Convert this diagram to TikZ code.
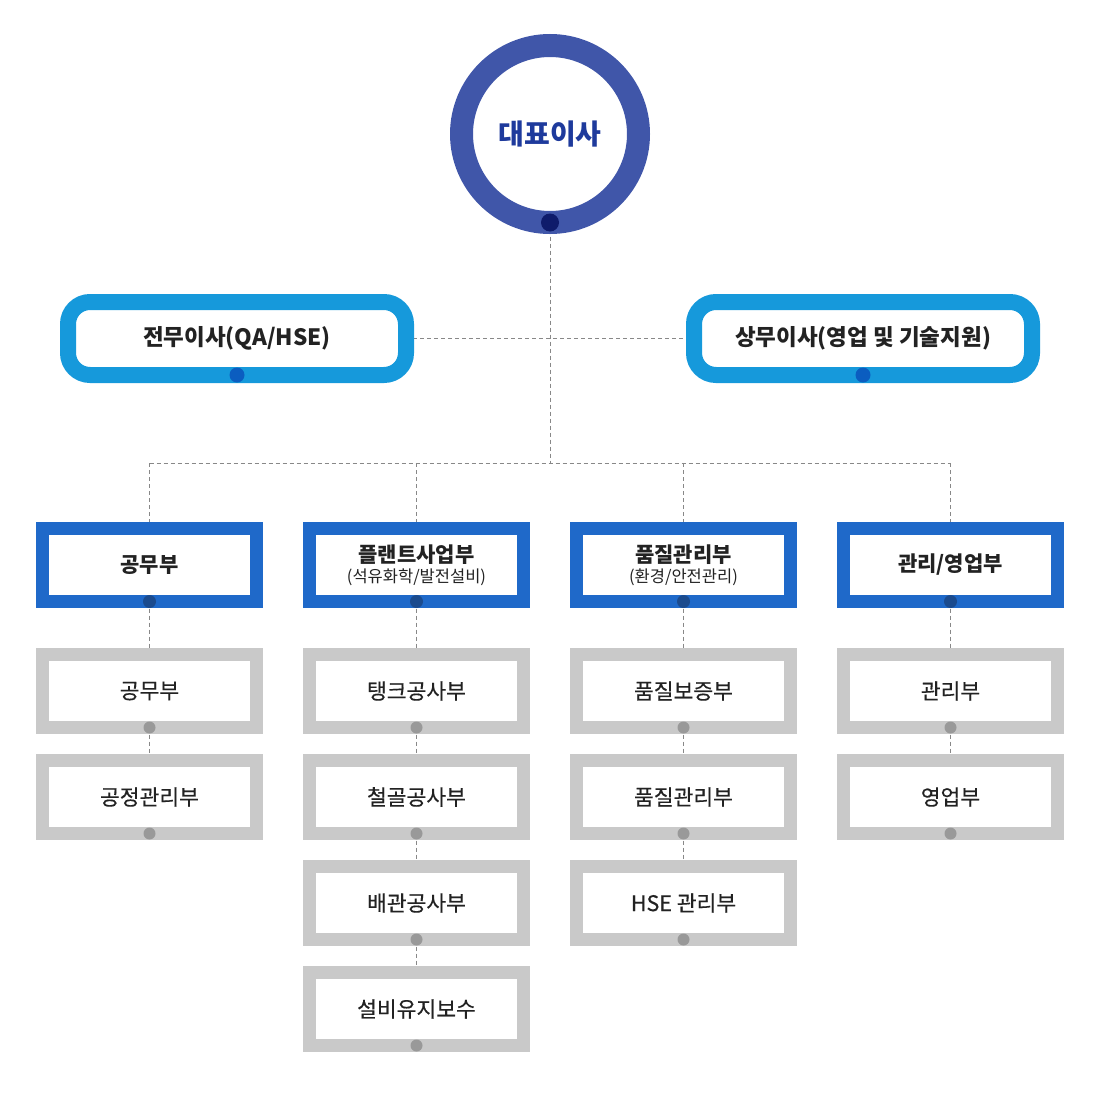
\documentclass[tikz,border=0pt]{standalone}
\usepackage{fontspec}
\setmainfont{Noto Sans CJK KR}
\newfontfamily\teamfont{Noto Sans CJK KR}[FakeBold=0.35]
\usetikzlibrary{backgrounds}
\definecolor{ring}{HTML}{4056A9}
\definecolor{ceotext}{HTML}{1E3A9C}
\definecolor{ceodot}{HTML}{0E1B6B}
\definecolor{vpblue}{HTML}{1699DB}
\definecolor{vpdot}{HTML}{0B5DC0}
\definecolor{deptblue}{HTML}{1F69C9}
\definecolor{deptdot}{HTML}{1B4B8E}
\definecolor{teamgray}{HTML}{C9C9C9}
\definecolor{teamdot}{HTML}{999999}
\definecolor{txt}{HTML}{222222}
\definecolor{linec}{HTML}{888888}
\begin{document}
\begin{tikzpicture}[x=1pt,y=-1pt,
  ceobox/.style={circle,draw=ring,line width=23pt,fill=white,minimum size=177pt,inner sep=0pt,outer sep=0pt,
    text=ceotext,font=\fontsize{28}{30}\selectfont\bfseries},
  vpbox/.style={rectangle,rounded corners=22pt,draw=vpblue,line width=16pt,fill=white,minimum width=338pt,minimum height=73pt,inner sep=0pt,outer sep=0pt,
    text=txt,font=\fontsize{22.5}{26}\selectfont\bfseries},
  deptbox/.style={rectangle,draw=deptblue,line width=13pt,fill=white,minimum width=214pt,minimum height=73pt,inner sep=0pt,outer sep=0pt,
    text=txt,font=\fontsize{21}{24}\selectfont\bfseries,align=center},
  teambox/.style={rectangle,draw=teamgray,line width=13pt,fill=white,minimum width=214pt,minimum height=73pt,inner sep=0pt,outer sep=0pt,
    text=txt,font=\fontsize{21.5}{24}\selectfont\teamfont},
  dotc/.style={circle,fill=#1,minimum size=13pt,inner sep=0pt},
  conn/.style={draw=linec,line width=0.9pt,dash pattern=on 4pt off 3pt}
]
\useasboundingbox (0,0) rectangle (1100,1100);

% CEO
\node[ceobox] (ceo) at (550,134) {대표이사};
\node[dotc=ceodot,minimum size=18pt] (ceod) at (ceo.south) {};

% vice presidents
\node[vpbox] (vp1) at (237,338.5) {전무이사(QA/HSE)};
\node[dotc=vpdot,minimum size=15pt] (vp1d) at (vp1.south) {};
\node[vpbox] (vp2) at (863,338.5) {상무이사(영업 및 기술지원)};
\node[dotc=vpdot,minimum size=15pt] (vp2d) at (vp2.south) {};

% departments
\node[deptbox] (d1) at (149.5,565) {공무부};
\node[deptbox] (d2) at (416.5,565) {플랜트사업부\\[-4pt]{\fontsize{16.5}{18}\selectfont\mdseries (석유화학/발전설비)}};
\node[deptbox] (d3) at (683.5,565) {품질관리부\\[-4pt]{\fontsize{16.5}{18}\selectfont\mdseries (환경/안전관리)}};
\node[deptbox] (d4) at (950.5,565) {관리/영업부};
\foreach \n in {d1,d2,d3,d4} \node[dotc=deptdot] (\n dot) at (\n.south) {};

% teams
\node[teambox] (t11) at (149.5,691) {공무부};
\node[teambox] (t12) at (149.5,797) {공정관리부};
\node[teambox] (t21) at (416.5,691) {탱크공사부};
\node[teambox] (t22) at (416.5,797) {철골공사부};
\node[teambox] (t23) at (416.5,903) {배관공사부};
\node[teambox] (t24) at (416.5,1009) {설비유지보수};
\node[teambox] (t31) at (683.5,691) {품질보증부};
\node[teambox] (t32) at (683.5,797) {품질관리부};
\node[teambox] (t33) at (683.5,903) {HSE 관리부};
\node[teambox] (t41) at (950.5,691) {관리부};
\node[teambox] (t42) at (950.5,797) {영업부};
\foreach \n in {t11,t12,t21,t22,t23,t24,t31,t32,t33,t41,t42} \node[dotc=teamdot,minimum size=12pt] (\n dot) at (\n.south) {};

% connectors
\coordinate (jh) at (550,463);
\coordinate (c1) at (149.5,463);
\coordinate (c2) at (416.5,463);
\coordinate (c3) at (683.5,463);
\coordinate (c4) at (950.5,463);
\begin{scope}[on background layer]
\draw[conn] (ceo.south) -- (jh);
\draw[conn] (vp1.east) -- (vp2.west);
\draw[conn] (c1) -- (c4);
\draw[conn] (c1) -- (d1.north);
\draw[conn] (c2) -- (d2.north);
\draw[conn] (c3) -- (d3.north);
\draw[conn] (c4) -- (d4.north);
\draw[conn] (d1.south) -- (t11.north);
\draw[conn] (t11.south) -- (t12.north);
\draw[conn] (d2.south) -- (t21.north);
\draw[conn] (t21.south) -- (t22.north);
\draw[conn] (t22.south) -- (t23.north);
\draw[conn] (t23.south) -- (t24.north);
\draw[conn] (d3.south) -- (t31.north);
\draw[conn] (t31.south) -- (t32.north);
\draw[conn] (t32.south) -- (t33.north);
\draw[conn] (d4.south) -- (t41.north);
\draw[conn] (t41.south) -- (t42.north);
\end{scope}
\end{tikzpicture}
\end{document}
